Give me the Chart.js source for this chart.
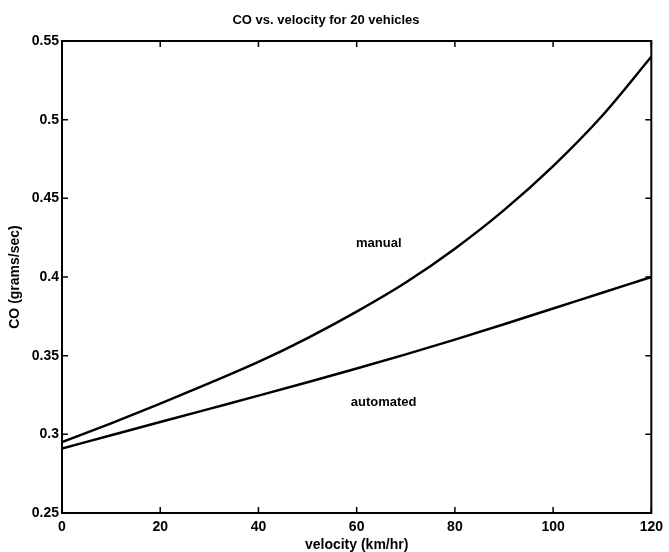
<!DOCTYPE html>
<html>
<head>
<meta charset="utf-8">
<title>CO vs. velocity</title>
<script src="https://cdn.jsdelivr.net/npm/chart.js@4/dist/chart.umd.min.js"></script>
<style>
  html, body { margin: 0; padding: 0; background: #fff; }
  #wrap { width: 669px; height: 552px; }
</style>
</head>
<body>
<div id="wrap"><canvas id="coChart" width="669" height="552"></canvas></div>
<script>
// datos
const velocity = [0, 10, 20, 30, 40, 50, 60, 70, 80, 90, 100, 110, 120];
const manualCO = [0.295, 0.307, 0.3195, 0.3325, 0.346, 0.3612, 0.378, 0.3965, 0.418, 0.4425, 0.4705, 0.5025, 0.540];
const automatedCO = [0.291, 0.2994, 0.3078, 0.3162, 0.3246, 0.3331, 0.3418, 0.3508, 0.3602, 0.370, 0.380, 0.390, 0.400];
const xTicks = [0, 20, 40, 60, 80, 100, 120];
const yTicks = [0.25, 0.3, 0.35, 0.4, 0.45, 0.5, 0.55];

const FONT = '"Liberation Sans", Arial, Helvetica, sans-serif';

function toPoints(ys) {
    return velocity.map((v, i) => ({ x: v, y: ys[i] }));
}

// caja tipo matlab con marcas hacia dentro + etiquetas de las curvas
const boxPlugin = {
    id: 'boxPlugin',
    afterDraw(chart) {
        const { ctx, chartArea: a, scales } = chart;
        const len = 6;
        ctx.save();
        ctx.strokeStyle = '#000';
        ctx.lineWidth = 1.5;
        ctx.beginPath();
        xTicks.forEach(t => {
            const px = scales.x.getPixelForValue(t);
            ctx.moveTo(px, a.bottom); ctx.lineTo(px, a.bottom - len);
            ctx.moveTo(px, a.top); ctx.lineTo(px, a.top + len);
        });
        yTicks.forEach(t => {
            const py = scales.y.getPixelForValue(t);
            ctx.moveTo(a.left, py); ctx.lineTo(a.left + len, py);
            ctx.moveTo(a.right, py); ctx.lineTo(a.right - len, py);
        });
        ctx.stroke();
        ctx.lineWidth = 2;
        ctx.strokeRect(a.left, a.top, a.right - a.left, a.bottom - a.top);

        ctx.fillStyle = '#000';
        ctx.font = 'bold 13px ' + FONT;
        ctx.textAlign = 'center';
        ctx.textBaseline = 'middle';
        ctx.fillText('manual', scales.x.getPixelForValue(64.5), scales.y.getPixelForValue(0.4215));
        ctx.fillText('automated', scales.x.getPixelForValue(65.5), scales.y.getPixelForValue(0.32));
        ctx.restore();
    }
};

new Chart(document.getElementById('coChart'), {
    type: 'line',
    data: {
        datasets: [
            {
                label: 'manual',
                data: toPoints(manualCO),
                borderColor: '#000',
                borderWidth: 2.5,
                pointRadius: 0,
                cubicInterpolationMode: 'monotone',
                fill: false
            },
            {
                label: 'automated',
                data: toPoints(automatedCO),
                borderColor: '#000',
                borderWidth: 2.5,
                pointRadius: 0,
                cubicInterpolationMode: 'monotone',
                fill: false
            }
        ]
    },
    options: {
        responsive: false,
        animation: false,
        layout: { padding: { left: 0, right: 17, top: 0, bottom: 0 } },
        plugins: {
            legend: { display: false },
            tooltip: { enabled: false },
            title: {
                display: true,
                text: 'CO vs. velocity for 20 vehicles',
                color: '#000',
                font: { family: FONT, size: 13, weight: 'bold', lineHeight: 1.2 },
                padding: { top: 13, bottom: 12.4 }
            }
        },
        scales: {
            x: {
                type: 'linear',
                min: 0,
                max: 120,
                afterBuildTicks: s => { s.ticks = xTicks.map(v => ({ value: v })); },
                afterFit: s => { s.height = 39; },
                grid: { display: false, drawTicks: false },
                border: { display: false },
                ticks: {
                    color: '#000',
                    padding: 6,
                    maxRotation: 0,
                    font: { family: FONT, size: 14, weight: 'bold' }
                },
                title: {
                    display: true,
                    text: 'velocity (km/hr)',
                    color: '#000',
                    padding: { top: 0, bottom: 0 },
                    font: { family: FONT, size: 14, weight: 'bold', lineHeight: 1 }
                }
            },
            y: {
                min: 0.25,
                max: 0.55,
                afterBuildTicks: s => { s.ticks = yTicks.map(v => ({ value: v })); },
                afterFit: s => { s.width = 62; },
                grid: { display: false, drawTicks: false },
                border: { display: false },
                ticks: {
                    color: '#000',
                    padding: 3,
                    font: { family: FONT, size: 14, weight: 'bold' },
                    callback: v => String(parseFloat(Number(v).toFixed(2)))
                },
                title: {
                    display: true,
                    text: 'CO (grams/sec)',
                    color: '#000',
                    padding: { top: 7, bottom: 0 },
                    font: { family: FONT, size: 14, weight: 'bold' }
                }
            }
        }
    },
    plugins: [boxPlugin]
});
</script>
</body>
</html>
